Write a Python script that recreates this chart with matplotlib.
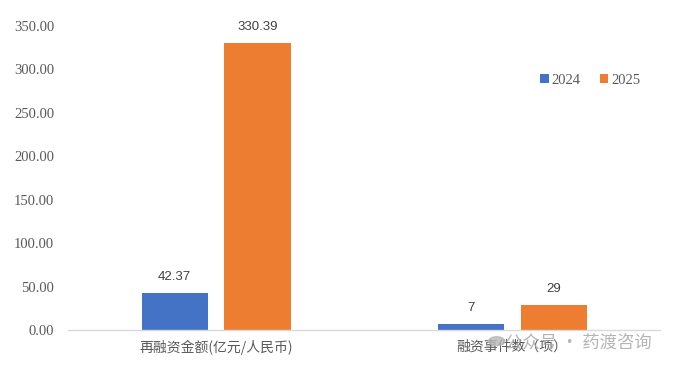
import matplotlib
matplotlib.use('Agg')
import matplotlib.pyplot as plt
from matplotlib.patches import Circle
import numpy as np

# 数据
categories = ['再融资金额(亿元/人民币)', '融资事件数（项）']
years = ['2024', '2025']
v2024 = [42.37, 7]
v2025 = [330.39, 29]
labels2024 = ['42.37', '7']
labels2025 = ['330.39', '29']
yticks = [0, 50, 100, 150, 200, 250, 300, 350]

blue = '#4472C4'
orange = '#ED7D31'
serif = ['Liberation Serif', 'DejaVu Serif']
sans = ['Liberation Sans', 'DejaVu Sans']
cjk = ['Noto Sans CJK SC', 'DejaVu Sans']

fig = plt.figure(figsize=(6.73, 3.7), dpi=100)
ax = fig.add_axes([0.101, 0.108, 0.880, 0.822])

x = np.arange(len(categories))
w = 0.223
off = 0.14
b1 = ax.bar(x - off, v2024, w, color=blue, label=years[0])
b2 = ax.bar(x + off, v2025, w, color=orange, label=years[1])

# 数据标签
for bars, labs in [(b1, labels2024), (b2, labels2025)]:
    for rect, t in zip(bars, labs):
        ax.annotate(t, (rect.get_x() + rect.get_width() / 2, rect.get_height()),
                    xytext=(0, 7), textcoords='offset points',
                    ha='center', va='bottom', fontsize=9.5, color='#404040', family=sans)

ax.set_xlim(-0.5, 1.5)
ax.set_ylim(0, 350)
ax.set_yticks(yticks)
ax.set_yticklabels(['%.2f' % v for v in yticks], family=serif, fontsize=10.5, color='#595959')
ax.set_xticks(x)
ax.set_xticklabels(categories, family=cjk, fontsize=10, color='#595959')
ax.tick_params(axis='y', length=0, pad=10)
ax.tick_params(axis='x', length=0, pad=7)

for s in ['top', 'right', 'left']:
    ax.spines[s].set_visible(False)
ax.spines['bottom'].set_color('#D9D9D9')
ax.spines['bottom'].set_linewidth(1)

leg = ax.legend(loc='upper left', bbox_to_anchor=(0.775, 0.885), ncol=2, frameon=False,
                prop={'family': serif, 'size': 10.5}, handlelength=0.6, handleheight=0.6,
                handletextpad=0.2, columnspacing=1.3)
for t in leg.get_texts():
    t.set_color('#595959')

# 水印
fig.patches.append(Circle((0.738, 0.078), 0.012, transform=fig.transFigure,
                          color='#b8b8b8', alpha=0.8))
fig.text(0.75, 0.075, '公众号 · 药渡咨询', family=cjk, fontsize=12.5,
         color='#a8a8a8', alpha=0.85, ha='left', va='center')

fig.savefig('out.png', dpi=100)
